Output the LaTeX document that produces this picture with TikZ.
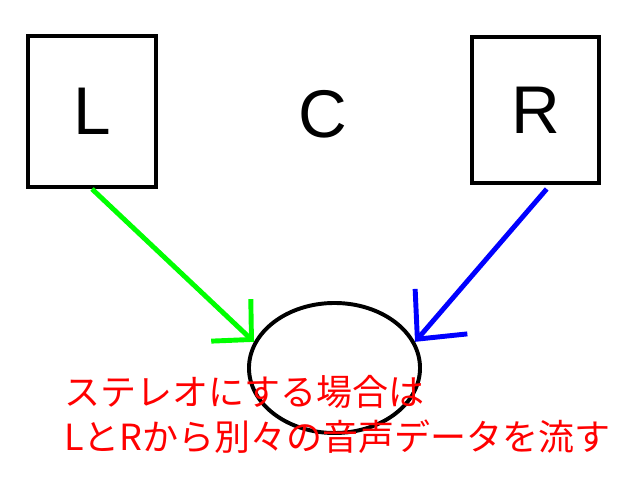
\documentclass[tikz,border=0pt]{standalone}
\usepackage{fontspec}
\usepackage{xcolor}
\usetikzlibrary{arrows.meta, shapes.geometric, positioning}
\newfontfamily\letterfont{Liberation Sans}
\newfontfamily\jpfont{Noto Sans CJK JP}
\definecolor{stereogreen}{HTML}{00FF00}
\definecolor{stereoblue}{HTML}{0000FF}
\definecolor{stereored}{HTML}{FF0000}

\begin{document}
\begin{tikzpicture}[
  x=0.025cm, y=-0.025cm,
  chbox/.style={draw, line width=2.8pt, inner sep=0pt, font=\letterfont\fontsize{48}{48}\selectfont},
  chlabel/.style={inner sep=0pt, font=\letterfont\fontsize{48}{48}\selectfont},
  ear/.style={draw, ellipse, line width=2.8pt, inner sep=0pt, minimum width=4.275cm, minimum height=3.25cm},
  note/.style={text=stereored, align=left, inner sep=0pt, font=\jpfont\fontsize{25.6}{32}\selectfont},
  arr/.style={line width=3.5pt}
]
\useasboundingbox (0,0) rectangle (640,480);

\node[chbox, minimum width=3.2cm, minimum height=3.775cm] (lbox) at (92,111.5) {L};
\node[chbox, minimum width=3.175cm, minimum height=3.65cm] (rbox) at (535.5,110) {R};
\node[chlabel] (center) at (322.5,114) {C};
\node[ear] (listener) at (334.5,368) {};

\draw[arr, stereogreen, -{Straight Barb[length=20pt, width=41pt]}] (lbox.south) -- (listener.162);
\draw[arr, stereoblue, -{Straight Barb[length=26pt, width=49pt]}] ([xshift=0.28cm, yshift=-0.1cm]rbox.south) -- (listener.18);

\node[note, anchor=west] (memo) at (64,414.5) {ステレオにする場合は\\LとRから別々の音声データを流す};
\end{tikzpicture}
\end{document}
